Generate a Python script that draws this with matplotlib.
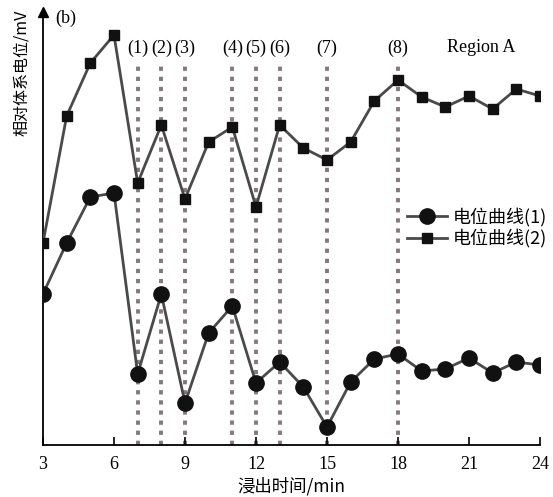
import numpy as np
import matplotlib.pyplot as plt

plt.rcParams['font.family'] = ['Liberation Serif', 'Noto Sans CJK SC']

# 浸出时间 / min
t = np.arange(3, 25)

# relative potential, arbitrary units
pot1 = [151, 202, 248, 252, 71, 151, 42, 112, 139, 62, 83, 58, 18, 63, 86, 91,
        74, 76, 87, 72, 83, 80]
pot2 = [202, 329, 382, 410, 262, 320, 246, 303, 318, 238, 320, 297, 285, 303,
        344, 365, 348, 338, 349, 336, 356, 349]

mark_t = [7, 8, 9, 11, 12, 13, 15, 18]
mark_lbl = ['(1)', '(2)', '(3)', '(4)', '(5)', '(6)', '(7)', '(8)']

fig = plt.figure(figsize=(5.53, 4.97), dpi=100)
ax = fig.add_axes([43 / 553, 52 / 497, 497 / 553, 433 / 497])
ax.set_xlim(3, 24)
ax.set_ylim(0, 433)

for xv, lb in zip(mark_t, mark_lbl):
    ax.plot([xv, xv], [0, 382], ls=(0, (1.1, 1.5)), lw=2.8, color='#857878', zorder=1)
    ax.text(xv, 397, lb, ha='center', va='center', fontsize=13)
ax.text(21.5, 397, 'Region A', ha='center', va='center', fontsize=13)
ax.text(3.95, 427, '(b)', ha='center', va='center', fontsize=13, clip_on=False)

ax.plot(t, pot1, '-o', color='#4a4a4a', lw=2, mfc='#111111', mec='#111111',
        ms=11, label='电位曲线(1)', zorder=3)
ax.plot(t, pot2, '-s', color='#4a4a4a', lw=2, mfc='#111111', mec='#111111',
        ms=7, label='电位曲线(2)', zorder=3)

leg = ax.legend(loc='upper left', bbox_to_anchor=(0.715, 0.57), frameon=False,
                handlelength=2.2, handletextpad=0.3,
                borderpad=0, labelspacing=0.15,
                prop={'family': ['Noto Sans CJK SC'], 'size': 13})

ax.spines['top'].set_visible(False)
ax.spines['right'].set_visible(False)
ax.spines['left'].set_linewidth(1.3)
ax.spines['bottom'].set_linewidth(1.3)
ax.plot(0, 1, '^k', ms=7, transform=ax.transAxes, clip_on=False)

ax.set_xticks(np.arange(3, 25, 3))
ax.tick_params(axis='x', direction='in', length=6, width=1.2, labelsize=13, pad=8)
ax.set_yticks([])

ax.set_xlabel('浸出时间/min', fontsize=12.5, family=['Noto Sans CJK SC'], labelpad=3)
ax.set_ylabel('相对体系电位/mV', fontsize=11.5, family=['Noto Sans CJK SC'])
ax.yaxis.set_label_coords(-0.026, 0.86)

fig.savefig('out.png', dpi=100)
